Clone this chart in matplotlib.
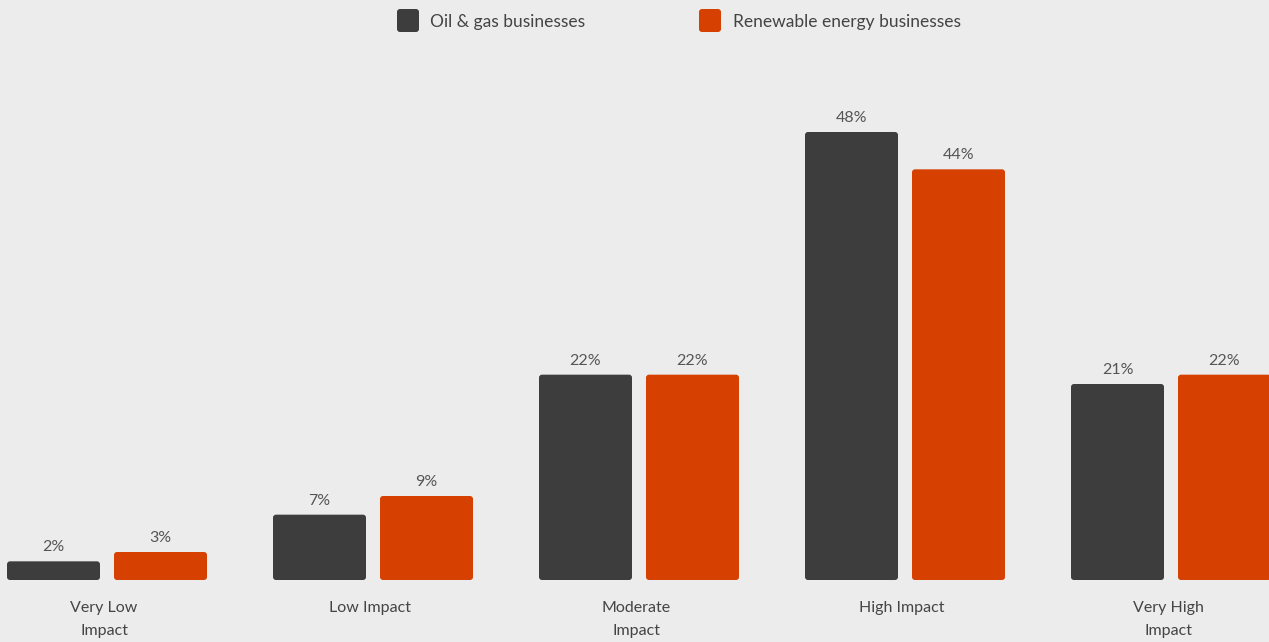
import matplotlib.pyplot as plt
from matplotlib.patches import FancyBboxPatch

categories = ['Very Low\nImpact', 'Low Impact', 'Moderate\nImpact', 'High Impact', 'Very High\nImpact']
oil_gas = [2, 7, 22, 48, 21]
renewable = [3, 9, 22, 44, 22]
series_names = ['Oil & gas businesses', 'Renewable energy businesses']

dark = '#3d3d3d'
orange = '#d64000'
bg = '#ececec'
txt = '#555555'

plt.rcParams['font.family'] = ['Lato', 'DejaVu Sans']

W, H = 1269, 642
fig = plt.figure(figsize=(W / 100, H / 100), dpi=100, facecolor=bg)
ax = fig.add_axes([0, 62 / H, 1, 530 / H])
ax.set_facecolor(bg)

px_x = 266.0           # pixels per category
px_y = 448 / 48.0      # pixels per percent
ax.set_xlim(-107 / px_x, (W - 107) / px_x)
ax.set_ylim(0, 530 / px_y)

width = 93 / px_x
off = 53.5 / px_x
rx = 3 / px_x
asp = (3 / px_y) / rx

def draw_bars(vals, shift, color):
    for i, v in enumerate(vals):
        x0 = i + shift - width / 2
        p = FancyBboxPatch((x0, 0), width, v,
                           boxstyle='round,pad=0,rounding_size=%f' % rx,
                           mutation_aspect=asp, facecolor=color,
                           edgecolor='none', clip_on=True)
        ax.add_patch(p)
        ax.text(i + shift, v + 7 / px_y, '%d%%' % v, ha='center', va='bottom',
                fontsize=11.5, color=txt)

draw_bars(oil_gas, -off, dark)
draw_bars(renewable, off, orange)

for i, c in enumerate(categories):
    ax.text(i - 3 / px_x, -21 / px_y, c, ha='center', va='top', fontsize=11.5,
            color='#444444', linespacing=1.8)

ax.axis('off')

# legend
for x_sq, x_txt, color, name in [(397, 430, dark, series_names[0]),
                                  (699, 733, orange, series_names[1])]:
    sq = FancyBboxPatch((x_sq / W, 1 - 32 / H), 22 / W, 23 / H,
                        boxstyle='round,pad=0,rounding_size=%f' % (3 / W),
                        mutation_aspect=W / H,
                        transform=fig.transFigure, facecolor=color, edgecolor='none')
    fig.add_artist(sq)
    fig.text(x_txt / W, 1 - 22 / H, name, ha='left', va='center', fontsize=12.5,
             color='#444444')

fig.savefig('out.png', dpi=100, facecolor=bg)
